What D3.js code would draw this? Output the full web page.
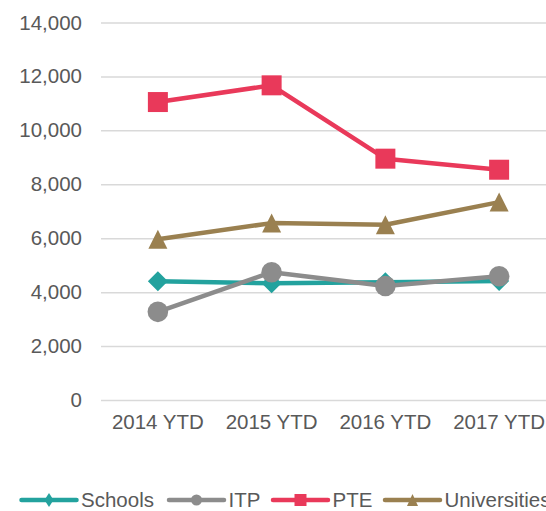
<!DOCTYPE html>
<html>
<head>
	<meta charset="UTF-8">
	<title>index</title>
	<script src="https://cdn.jsdelivr.net/npm/d3@7"></script>
	<style>
		body { margin:0; background:#fff; overflow:hidden; }
		svg { display:block; font-family:"Liberation Sans", Arial, sans-serif; }
		.tick text { fill:#595959; font-size:20.5px; }
		.grid line { stroke:#d9d9d9; stroke-width:1.5; }
		.legend text { fill:#595959; font-size:20.5px; }
	</style>
</head>
<body>
<script>
	var categories = ["2014 YTD", "2015 YTD", "2016 YTD", "2017 YTD"];
	var seriesNames = ["Schools", "ITP", "PTE", "Universities"];
	var schools = [4400, 4330, 4370, 4410];
	var itp = [3270, 4740, 4230, 4590];
	var pte = [11050, 11670, 8950, 8540];
	var universities = [5960, 6560, 6500, 7340];
	var yTicks = [0, 2000, 4000, 6000, 8000, 10000, 12000, 14000];

	var colors = ["#23a29e", "#8c8c8c", "#e9395a", "#9a8050"];
	var markerTypes = ["diamond", "circle", "square", "triangle"];
	var allValues = [schools, itp, pte, universities];

	var width = 546, height = 511;
	var left = 101, plotW = 455;

	// marker shapes: w = half width, h = half height
	function marker(type, w, h) {
		if (type == "diamond") return "M0," + (-h) + "L" + w + ",0L0," + h + "L" + (-w) + ",0Z";
		if (type == "square") return "M" + (-w) + "," + (-h) + "H" + w + "V" + h + "H" + (-w) + "Z";
		if (type == "triangle") return "M0," + (-h) + "L" + w + "," + h + "L" + (-w) + "," + h + "Z";
		return "M" + (-w) + ",0A" + w + "," + w + " 0 1,1 " + w + ",0A" + w + "," + w + " 0 1,1 " + (-w) + ",0Z";
	}
	var plotSizes = [[10, 10], [10.3, 10.3], [10, 10], [9.5, 9.5]];
	var legendSizes = [[4.5, 7], [5.5, 5.5], [6, 6], [5.5, 6]];

	var svg = d3.select("body").append("svg").attr("width", width).attr("height", height);

	var x = d3.scaleBand().domain(categories).range([left, left + plotW]).padding(0);
	var y = d3.scaleLinear().domain([0, 14000]).range([400, 22.5]);

	// y axis + gridlines
	var yAxis = svg.append("g").attr("class", "grid")
		.attr("transform", "translate(" + left + ",0)")
		.call(d3.axisLeft(y).tickValues(yTicks).tickSize(-plotW).tickPadding(19).tickFormat(d3.format(",")));
	yAxis.select(".domain").remove();

	// x axis labels
	var xAxis = svg.append("g")
		.attr("transform", "translate(0,400)")
		.call(d3.axisBottom(x).tickSize(0).tickPadding(14));
	xAxis.select(".domain").remove();

	var cx = function(i) { return x(categories[i]) + x.bandwidth() / 2; };
	var line = d3.line()
		.x(function(d, i) { return cx(i); })
		.y(function(d) { return y(d); });

	for (var s = 0; s < allValues.length; s++) {
		var g = svg.append("g");
		g.append("path")
			.datum(allValues[s])
			.attr("d", line)
			.attr("fill", "none")
			.attr("stroke", colors[s])
			.attr("stroke-width", 4.5)
			.attr("stroke-linejoin", "round");
		g.selectAll("path.mk")
			.data(allValues[s])
			.enter().append("path")
			.attr("class", "mk")
			.attr("d", marker(markerTypes[s], plotSizes[s][0], plotSizes[s][1]))
			.attr("transform", function(d, i) { return "translate(" + cx(i) + "," + y(d) + ")"; })
			.attr("fill", colors[s]);
	}

	// legend
	var legendX = [21.5, 169, 273, 385];
	var legend = svg.append("g").attr("class", "legend");
	for (var k = 0; k < seriesNames.length; k++) {
		var lg = legend.append("g").attr("transform", "translate(" + legendX[k] + ",500)");
		lg.append("line")
			.attr("x1", 0).attr("x2", 55)
			.attr("y1", 0).attr("y2", 0)
			.attr("stroke", colors[k])
			.attr("stroke-width", 4.5)
			.attr("stroke-linecap", "round");
		lg.append("path")
			.attr("d", marker(markerTypes[k], legendSizes[k][0], legendSizes[k][1]))
			.attr("transform", "translate(27.5,0)")
			.attr("fill", colors[k]);
		lg.append("text")
			.attr("x", 59.5)
			.attr("y", 0)
			.attr("dy", "0.35em")
			.text(seriesNames[k]);
	}
</script>
</body>
</html>
